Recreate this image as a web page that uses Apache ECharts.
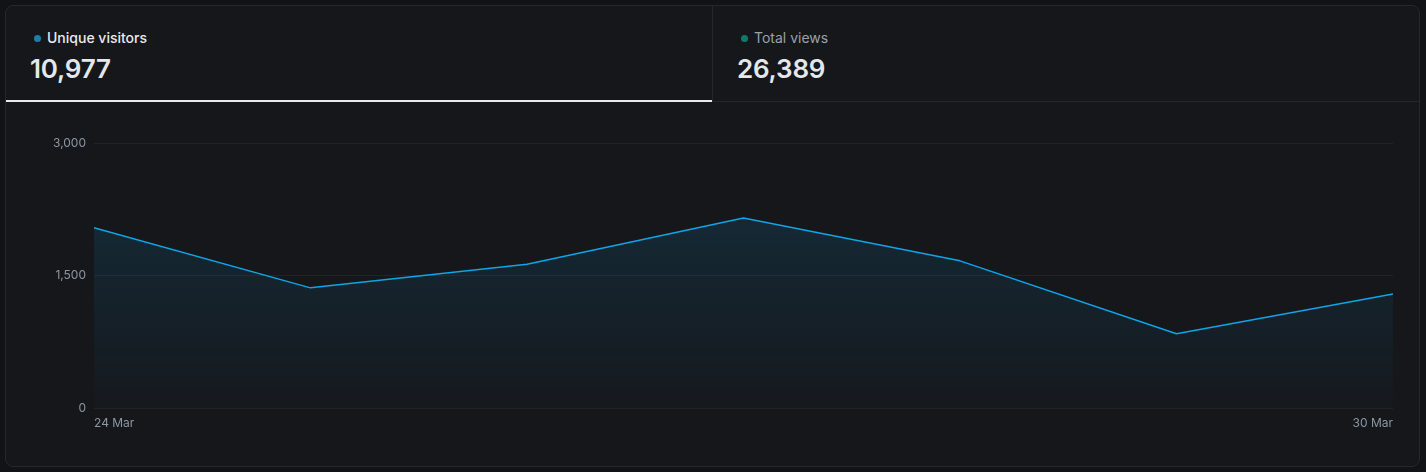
<!DOCTYPE html>
<html><head><meta charset="utf-8">
<script src="https://cdn.jsdelivr.net/npm/echarts@6/dist/echarts.min.js"></script>
<style>
html,body{margin:0;padding:0;background:#121316;width:1426px;height:472px;overflow:hidden;font-family:Inter,"Noto Sans",sans-serif;}
#card{position:absolute;left:5px;top:5px;width:1413px;height:460px;border:1px solid #25272c;border-radius:8px;background:#16171b;overflow:hidden;}
.tab{position:absolute;top:0;height:96px;box-sizing:border-box;}
#tab1{left:0;width:706px;border-bottom:2px solid #e8eaed;}
#tab2{left:706px;width:707px;border-left:1px solid #25272c;border-bottom:1px solid #25272c;}
.lab{position:absolute;top:23px;font-size:14px;line-height:18px;white-space:nowrap;}
.dot{display:inline-block;width:7px;height:7px;border-radius:50%;margin-right:6px;vertical-align:1px;}
.num{position:absolute;top:47px;font-size:26px;font-weight:600;color:#e4e7eb;letter-spacing:-0.2px;}
#chart{position:absolute;left:0;top:97px;width:1413px;height:363px;}
</style></head>
<body>
<div id="card">
  <div class="tab" id="tab1">
    <div class="lab" style="left:28px;color:#e8eaed;font-weight:500;"><span class="dot" style="background:#1b7fa6"></span>Unique visitors</div>
    <div class="num" style="left:24px;">10,977</div>
  </div>
  <div class="tab" id="tab2">
    <div class="lab" style="left:28px;color:#98a2ad;"><span class="dot" style="background:#0f7a6c"></span>Total views</div>
    <div class="num" style="left:24px;">26,389</div>
  </div>
  <div id="chart"></div>
</div>
<script>
const categories = ["24 Mar","25 Mar","26 Mar","27 Mar","28 Mar","29 Mar","30 Mar"];
const uniqueVisitors = [2040, 1360, 1628, 2152, 1666, 840, 1291];
const yTicks = [0, 1500, 3000];

const chart = echarts.init(document.getElementById('chart'), null, {renderer:'canvas'});
chart.setOption({
  backgroundColor: 'transparent',
  animation: false,
  grid: {left: 88, right: 26, top: 40, bottom: 58},
  xAxis: {
    type: 'category', data: categories, boundaryGap: false,
    axisLine: {show: false}, axisTick: {show: false},
    axisLabel: {
      interval: function(i){ return i === 0 || i === categories.length - 1; },
      color: '#8d97a3', fontSize: 12, fontFamily: 'Inter', margin: 9,
      alignMinLabel: 'left', alignMaxLabel: 'right'
    },
    splitLine: {show: false}
  },
  yAxis: {
    type: 'value', min: yTicks[0], max: yTicks[yTicks.length-1], interval: 1500,
    axisLine: {show: false}, axisTick: {show: false},
    axisLabel: {color: '#8d97a3', fontSize: 12, fontFamily: 'Inter', margin: 8,
      formatter: v => v.toLocaleString('en-US')},
    splitLine: {lineStyle: {color: '#212328', width: 1}}
  },
  series: [{
    type: 'line', data: uniqueVisitors, symbol: 'none', smooth: false,
    lineStyle: {color: '#0ea5e9', width: 1.5},
    areaStyle: {color: new echarts.graphic.LinearGradient(0,0,0,1,[
      {offset:0, color:'rgba(14,165,233,0.18)'},
      {offset:1, color:'rgba(14,165,233,0.02)'}
    ])}
  }]
});
</script>
</body></html>
